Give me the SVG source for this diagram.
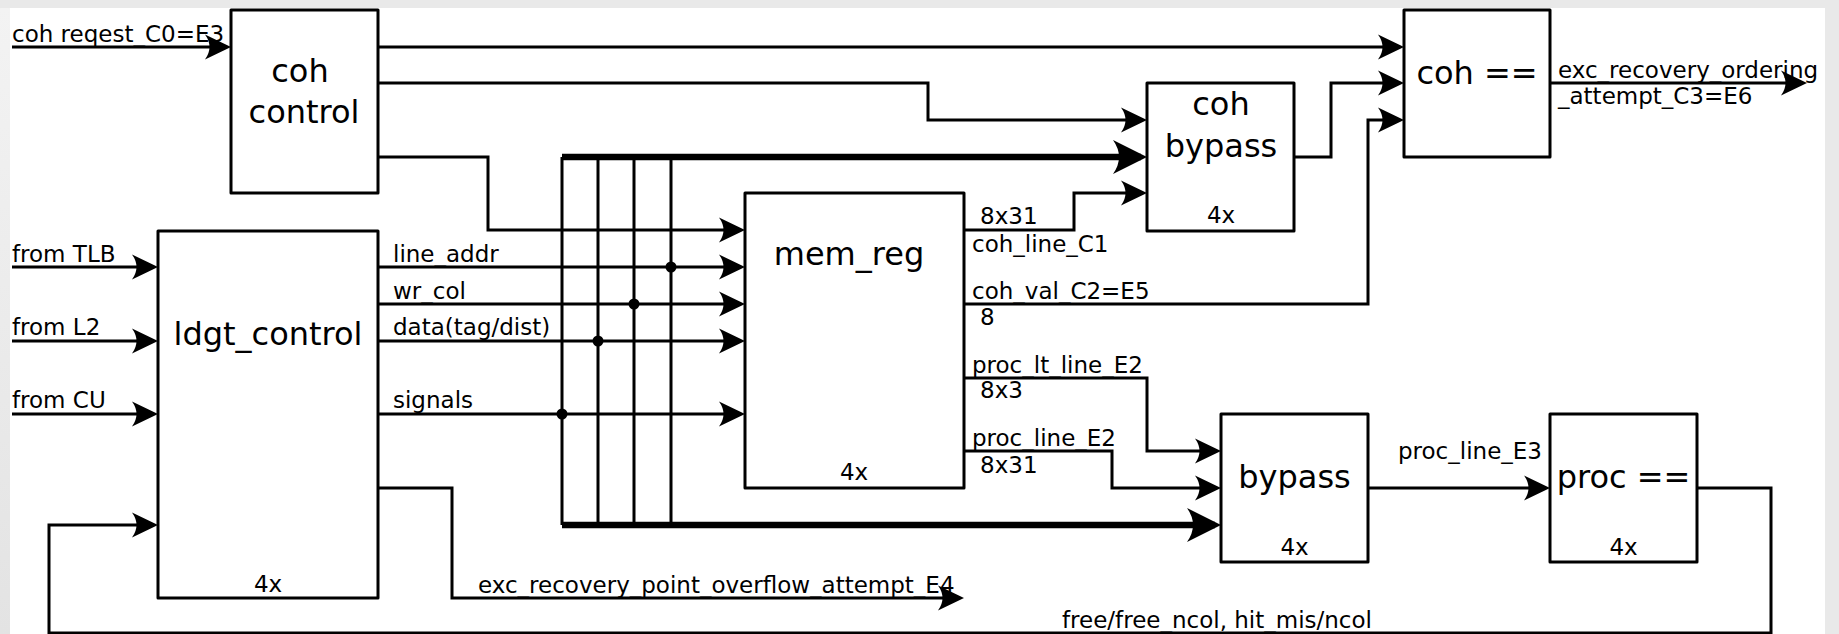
<svg xmlns="http://www.w3.org/2000/svg" width="1839" height="634" viewBox="0 0 1839 634">
<style>
.box{fill:#fff;stroke:#000;stroke-width:3;stroke-linejoin:round}
.big{font-family:"DejaVu Sans","Liberation Sans",sans-serif;font-size:32px;fill:#000;text-anchor:middle}
.mid{font-family:"DejaVu Sans","Liberation Sans",sans-serif;font-size:23px;fill:#000;text-anchor:middle}
.lbl{font-family:"DejaVu Sans","Liberation Sans",sans-serif;font-size:23px;fill:#000}
.w{fill:none;stroke:#000;stroke-width:3;stroke-linejoin:miter}
.a{marker-end:url(#arr)}
.bus{fill:none;stroke:#000;stroke-width:6.5;marker-end:url(#arrB)}
</style>
<defs>
<linearGradient id="lg" x1="0" y1="0" x2="0" y2="1">
<stop offset="0" stop-color="#f3f3f3"/>
<stop offset="1" stop-color="#e3e3e3"/>
</linearGradient>
<marker id="arr" viewBox="0 0 26 26" refX="22" refY="13" markerWidth="26" markerHeight="26" markerUnits="userSpaceOnUse" orient="auto">
<path d="M26,13 L0,0.5 Q9,13 0,25.5 Z" fill="#000"/>
</marker>
<marker id="arrB" viewBox="0 0 34 34" refX="28" refY="17" markerWidth="34" markerHeight="34" markerUnits="userSpaceOnUse" orient="auto">
<path d="M34,17 L0,0 Q12,17 0,34 Z" fill="#000"/>
</marker>
</defs>
<rect x="0" y="0" width="1839" height="634" fill="#e9e9e9"/>
<rect x="0" y="8" width="10" height="626" fill="url(#lg)"/>
<rect x="10" y="8" width="1815" height="626" fill="#fff"/>

<g id="connectors">
<path class="w a" d="M12,47 H227"/>
<path class="w a" d="M378,47 H1400"/>
<path class="w a" d="M378,83 H928 V120 H1143"/>
<path class="w a" d="M378,157 H488 V230 H741"/>
<path class="bus" d="M562,157 H1141"/>
<path class="bus" d="M562,525 H1215"/>
<path class="w" d="M562,157 V525 M598,157 V525 M634,157 V525 M671,157 V525"/>
<path class="w a" d="M12,267 H154"/>
<path class="w a" d="M12,341 H154"/>
<path class="w a" d="M12,414 H154"/>
<path class="w a" d="M378,267 H741"/>
<path class="w a" d="M378,304 H741"/>
<path class="w a" d="M378,341 H741"/>
<path class="w a" d="M378,414 H741"/>
<g fill="#000">
<circle cx="671" cy="267" r="5.5"/>
<circle cx="634" cy="304" r="5.5"/>
<circle cx="598" cy="341" r="5.5"/>
<circle cx="562" cy="414" r="5.5"/>
</g>
<path class="w a" d="M378,488 H452 V598 H960"/>
<path class="w a" d="M1697,488 H1771 V633 H49 V525 H154"/>
<path class="w a" d="M964,230 H1074 V193 H1143"/>
<path class="w a" d="M1294,157 H1331 V83 H1400"/>
<path class="w a" d="M964,304 H1368 V120 H1400"/>
<path class="w a" d="M1550,83 H1803"/>
<path class="w a" d="M964,378 H1147 V451 H1217"/>
<path class="w a" d="M964,451 H1112 V488 H1217"/>
<path class="w a" d="M1368,488 H1546"/>
</g>

<g id="coh_control">
<rect class="box" x="231" y="10" width="147" height="183"/>
<text class="big" x="300" y="82">coh</text>
<text class="big" x="304" y="123">control</text>
</g>
<g id="ldgt_control">
<rect class="box" x="158" y="231" width="220" height="367"/>
<text class="big" x="268" y="345">ldgt_control</text>
<text class="mid" x="268" y="592">4x</text>
</g>
<g id="mem_reg">
<rect class="box" x="745" y="193" width="219" height="295"/>
<text class="big" x="849" y="265">mem_reg</text>
<text class="mid" x="854" y="480">4x</text>
</g>
<g id="coh_bypass">
<rect class="box" x="1147" y="83" width="147" height="148"/>
<text class="big" x="1221" y="115">coh</text>
<text class="big" x="1221" y="157">bypass</text>
<text class="mid" x="1221" y="223">4x</text>
</g>
<g id="coh_eq">
<rect class="box" x="1404" y="10" width="146" height="147"/>
<text class="big" x="1477" y="84">coh ==</text>
</g>
<g id="bypass">
<rect class="box" x="1221" y="414" width="147" height="148"/>
<text class="big" x="1294.5" y="488">bypass</text>
<text class="mid" x="1294.5" y="555">4x</text>
</g>
<g id="proc_eq">
<rect class="box" x="1550" y="414" width="147" height="148"/>
<text class="big" x="1623.5" y="488">proc ==</text>
<text class="mid" x="1623.5" y="555">4x</text>
</g>

<g id="labels">
<text class="lbl" x="12" y="42">coh reqest_C0=E3</text>
<text class="lbl" x="12" y="262">from TLB</text>
<text class="lbl" x="12" y="335">from L2</text>
<text class="lbl" x="12" y="408">from CU</text>
<text class="lbl" x="393" y="262">line_addr</text>
<text class="lbl" x="393" y="299">wr_col</text>
<text class="lbl" x="393" y="335">data(tag/dist)</text>
<text class="lbl" x="393" y="408">signals</text>
<text class="lbl" x="980" y="224">8x31</text>
<text class="lbl" x="972" y="252">coh_line_C1</text>
<text class="lbl" x="972" y="299">coh_val_C2=E5</text>
<text class="lbl" x="980" y="325">8</text>
<text class="lbl" x="972" y="373">proc_lt_line_E2</text>
<text class="lbl" x="980" y="398">8x3</text>
<text class="lbl" x="972" y="446">proc_line_E2</text>
<text class="lbl" x="980" y="473">8x31</text>
<text class="lbl" x="1398" y="459">proc_line_E3</text>
<text class="lbl" x="1558" y="78">exc_recovery_ordering</text>
<text class="lbl" x="1558" y="104">_attempt_C3=E6</text>
<text class="lbl" x="478" y="593">exc_recovery_point_overflow_attempt_E4</text>
<text class="lbl" x="1062" y="628">free/free_ncol, hit_mis/ncol</text>
</g>
</svg>
